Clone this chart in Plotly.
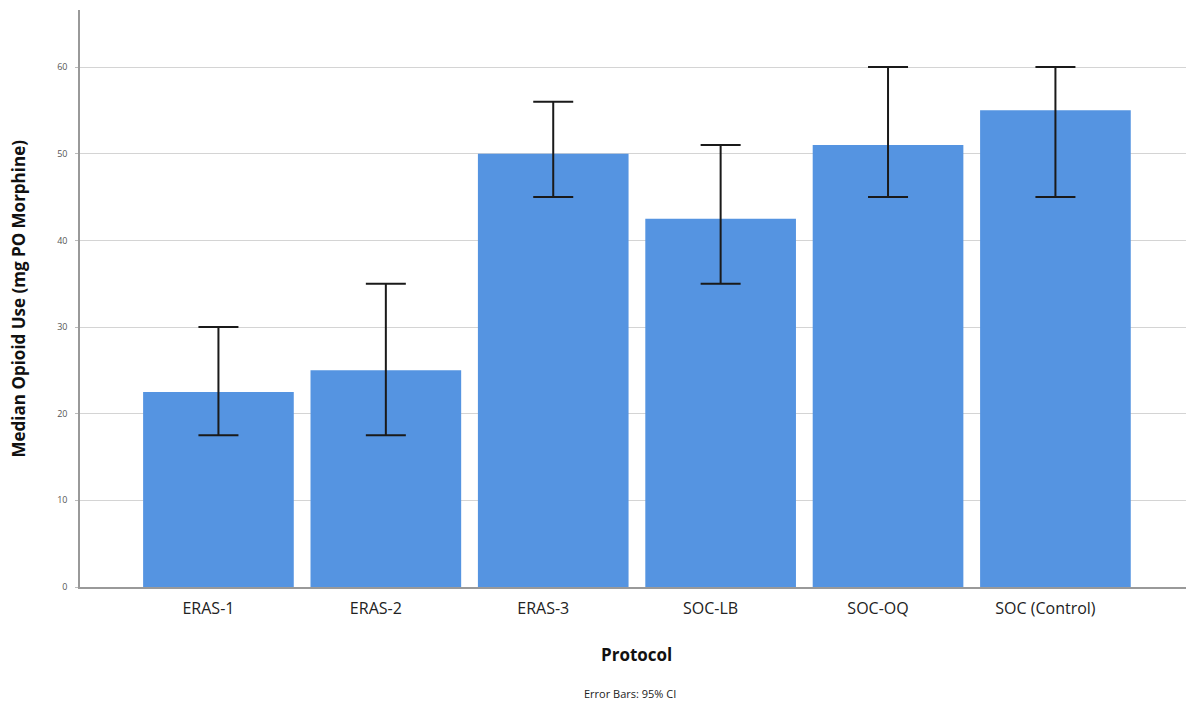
import plotly.graph_objects as go

categories = ["ERAS-1", "ERAS-2", "ERAS-3", "SOC-LB", "SOC-OQ", "SOC (Control)"]
medians = [22.5, 25.0, 50.0, 42.5, 51.0, 55.0]
ci_upper = [30.0, 35.0, 56.0, 51.0, 60.0, 60.0]
ci_lower = [17.5, 17.5, 45.0, 35.0, 45.0, 45.0]
y_ticks = [0, 10, 20, 30, 40, 50, 60]

err_plus = [u - m for u, m in zip(ci_upper, medians)]
err_minus = [m - l for m, l in zip(medians, ci_lower)]

fig = go.Figure()
fig.add_trace(go.Bar(
    x=categories,
    y=medians,
    marker=dict(color="rgb(85,148,225)", line=dict(width=0)),
    error_y=dict(type="data", symmetric=False, array=err_plus, arrayminus=err_minus,
                 color="#1a1a1a", thickness=2, width=20),
    showlegend=False,
))

fig.update_layout(
    width=1186, height=706,
    margin=dict(l=80, r=0, t=10, b=119),
    paper_bgcolor="white", plot_bgcolor="white",
    bargap=0.1,
    font=dict(family="Open Sans, DejaVu Sans, sans-serif", color="#222"),
    xaxis=dict(
        range=[-0.827, 5.78],
        showgrid=False,
        showline=True, linecolor="#999", linewidth=1.5,
        ticks="", tickfont=dict(size=16, color="#222"),
        ticklabelstandoff=6,
        ticklabelshift=-10,
    ),
    yaxis=dict(
        range=[0, 66.58],
        tickvals=y_ticks,
        showgrid=True, gridcolor="#d4d4d4", gridwidth=1,
        showline=True, linecolor="#999", linewidth=1.5,
        ticks="outside", ticklen=3, tickcolor="#bbb",
        tickfont=dict(size=9, color="#555"),
        ticklabelstandoff=6,
        zeroline=False,
    ),
    annotations=[
        dict(text="<b>Median Opioid Use (mg PO Morphine)</b>", textangle=-90,
             xref="paper", yref="paper", x=-80/1106 + 18/1106, y=0.5,
             xanchor="center", yanchor="middle", showarrow=False,
             font=dict(size=17, color="#111")),
        dict(text="<b>Protocol</b>", xref="paper", yref="paper",
             x=(636-80)/1106, y=-(655-587)/577, xanchor="center", yanchor="middle",
             showarrow=False, font=dict(size=17, color="#111")),
        dict(text="Error Bars: 95% CI", xref="paper", yref="paper",
             x=(630-80)/1106, y=-(693-587)/577, xanchor="center", yanchor="middle",
             showarrow=False, font=dict(size=11, color="#222")),
    ],
)

fig.write_html("out.html")
